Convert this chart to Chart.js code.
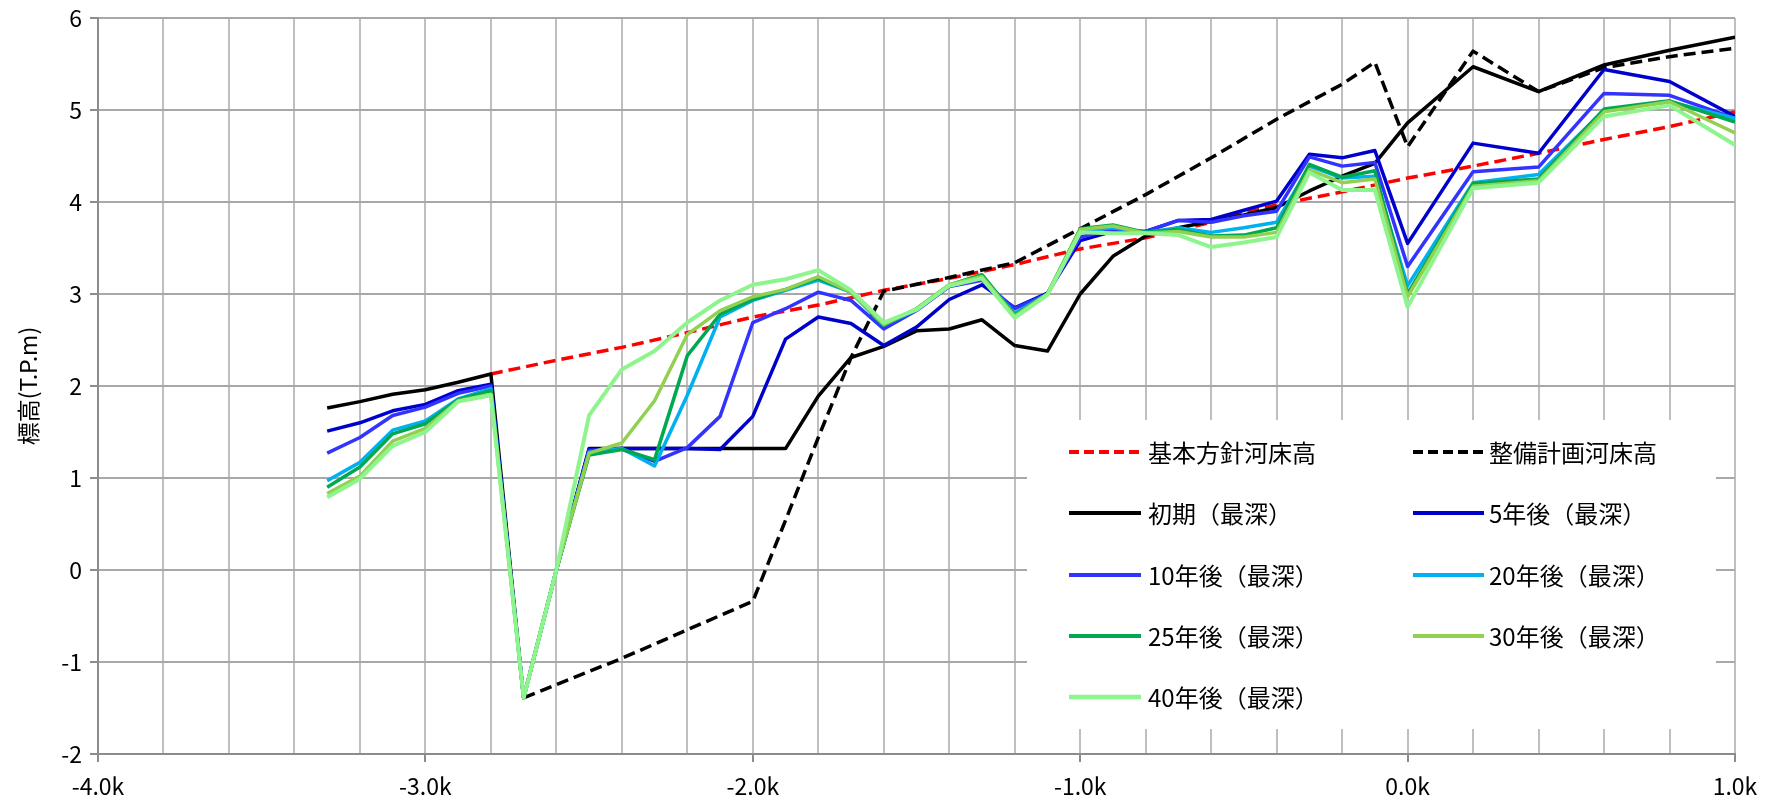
<!DOCTYPE html>
<html>
<head>
<meta charset="utf-8">
<title>河床高縦断図</title>
<script src="https://cdn.jsdelivr.net/npm/chart.js@4.4.1/dist/chart.umd.min.js"></script>
<style>
  html, body { margin: 0; padding: 0; background: #ffffff; }
  #wrap { width: 1772px; height: 801px; }
</style>
</head>
<body>
<div id="wrap"><canvas id="c" width="1772" height="801"></canvas></div>
<script>
// 距離標 (k)
const distance = [-3.3,-3.2,-3.1,-3.0,-2.9,-2.8,-2.7,-2.6,-2.5,-2.4,-2.3,-2.2,-2.1,-2.0,-1.9,-1.8,-1.7,-1.6,-1.5,-1.4,-1.3,-1.2,-1.1,-1.0,-0.9,-0.8,-0.7,-0.6,-0.5,-0.4,-0.3,-0.2,-0.1,0.0,0.2,0.4,0.6,0.8,1.0];

// 最深河床高 (T.P.m)
const shoki = [1.76,1.83,1.91,1.96,2.04,2.13,-1.39,0.00,1.32,1.32,1.32,1.32,1.32,1.32,1.32,1.89,2.31,2.43,2.60,2.62,2.72,2.44,2.38,3.00,3.41,3.63,3.72,3.79,3.86,3.94,4.12,4.28,4.42,4.86,5.47,5.20,5.49,5.65,5.79];
const after5 = [1.51,1.60,1.73,1.80,1.95,2.02,-1.39,0.00,1.31,1.32,1.32,1.32,1.31,1.67,2.51,2.75,2.68,2.44,2.64,2.94,3.10,2.85,3.01,3.58,3.68,3.68,3.80,3.81,3.91,4.01,4.52,4.48,4.56,3.55,4.64,4.53,5.44,5.31,4.93];
const after10 = [1.27,1.44,1.68,1.77,1.92,2.00,-1.39,0.00,1.30,1.32,1.18,1.33,1.67,2.69,2.84,3.02,2.93,2.62,2.82,3.08,3.15,2.84,3.00,3.62,3.70,3.68,3.80,3.78,3.85,3.90,4.49,4.39,4.43,3.30,4.33,4.38,5.18,5.16,4.91];
const after20 = [0.97,1.17,1.52,1.62,1.86,1.97,-1.39,0.00,1.28,1.32,1.13,1.90,2.75,2.93,3.04,3.15,3.02,2.66,2.83,3.09,3.18,2.79,3.00,3.68,3.72,3.67,3.72,3.67,3.72,3.78,4.39,4.26,4.28,3.09,4.21,4.30,5.00,5.09,4.91];
const after25 = [0.90,1.12,1.48,1.59,1.85,1.95,-1.39,0.00,1.25,1.31,1.20,2.33,2.78,2.94,3.05,3.17,3.02,2.66,2.84,3.10,3.21,2.77,3.00,3.71,3.75,3.67,3.70,3.63,3.64,3.72,4.41,4.27,4.34,3.00,4.20,4.25,5.01,5.10,4.87];
const after30 = [0.83,1.02,1.40,1.54,1.84,1.91,-1.39,0.00,1.27,1.38,1.84,2.56,2.82,2.97,3.05,3.19,3.02,2.67,2.84,3.10,3.19,2.76,3.00,3.70,3.74,3.66,3.68,3.62,3.62,3.67,4.35,4.21,4.25,2.97,4.17,4.23,4.98,5.09,4.75];
const after40 = [0.79,0.99,1.35,1.50,1.83,1.90,-1.39,0.00,1.68,2.18,2.38,2.69,2.93,3.10,3.16,3.26,3.04,2.69,2.83,3.09,3.17,2.74,2.99,3.67,3.66,3.66,3.64,3.51,3.56,3.62,4.32,4.13,4.13,2.86,4.15,4.21,4.93,5.05,4.62];

// 基本方針河床高
const kihonDistance = [-2.8,-2.6,-2.4,-2.2,-2.0,-1.8,-1.6,-1.4,-1.2,-1.0,-0.8,-0.6,-0.4,-0.2,0.0,0.2,0.4,0.6,0.8,1.0];
const kihonBed = [2.13,2.28,2.42,2.58,2.75,2.88,3.04,3.17,3.32,3.49,3.61,3.78,3.97,4.11,4.26,4.39,4.53,4.68,4.82,4.98];

// 整備計画河床高
const seibiDistance = [-2.7,-2.4,-2.2,-2.0,-1.9,-1.8,-1.7,-1.6,-1.4,-1.2,-1.0,-0.8,-0.6,-0.4,-0.2,-0.1,0.0,0.2,0.4,0.6,0.8,1.0];
const seibiBed = [-1.39,-0.96,-0.65,-0.34,0.54,1.44,2.31,3.03,3.18,3.34,3.71,4.08,4.48,4.90,5.28,5.52,4.60,5.64,5.20,5.46,5.58,5.67];

const seriesNames = ['基本方針河床高','整備計画河床高','初期（最深）','5年後（最深）','10年後（最深）','20年後（最深）','25年後（最深）','30年後（最深）','40年後（最深）'];
const seriesColors = ['#ff0000','#000000','#000000','#0000cc','#3333ff','#00b0f0','#00a850','#92d050','#8ef58e'];
const seriesDashed = [true, true, false, false, false, false, false, false, false];

const xTickValues = [-4, -3, -2, -1, 0, 1];
const yAxisTitle = '標高(T.P.m)';

const FONT = '"Noto Sans CJK JP", "Noto Sans", sans-serif';

function pts(xs, ys) { return xs.map((x, i) => ({ x: x, y: ys[i] })); }

const seriesData = [
  pts(kihonDistance, kihonBed),
  pts(seibiDistance, seibiBed),
  pts(distance, shoki),
  pts(distance, after5),
  pts(distance, after10),
  pts(distance, after20),
  pts(distance, after25),
  pts(distance, after30),
  pts(distance, after40)
];

const datasets = seriesData.map((d, i) => ({
  label: seriesNames[i],
  data: d,
  borderColor: seriesColors[i],
  backgroundColor: seriesColors[i],
  borderWidth: i === 8 ? 4 : 3.5,
  borderDash: seriesDashed[i] ? [12, 6] : [],
  borderJoinStyle: 'round',
  pointRadius: 0,
  tension: 0,
  fill: false,
  order: seriesData.length - i   // later series painted on top
}));

// legend box inside the plot, two columns
const legendBox = {
  id: 'legendBox',
  beforeDatasetsDraw(chart) {
    const ctx = chart.ctx;
    ctx.save();
    ctx.fillStyle = '#ffffff';
    ctx.fillRect(1027, 420, 1716 - 1027, 729 - 420);
    const rows = [452, 513, 575, 636, 697];
    const cols = [{ x0: 1069, x1: 1141, tx: 1148 }, { x0: 1413, x1: 1484, tx: 1489 }];
    ctx.font = '24px ' + FONT;
    ctx.textBaseline = 'middle';
    ctx.textAlign = 'left';
    seriesNames.forEach((name, i) => {
      const r = rows[Math.floor(i / 2)];
      const c = cols[i % 2];
      ctx.beginPath();
      ctx.strokeStyle = seriesColors[i];
      ctx.lineWidth = i === 8 ? 4.5 : 4;
      ctx.setLineDash(seriesDashed[i] ? [10, 5] : []);
      ctx.moveTo(c.x0, r);
      ctx.lineTo(c.x1, r);
      ctx.stroke();
      ctx.setLineDash([]);
      ctx.fillStyle = '#000000';
      ctx.fillText(name, c.tx, r + 1);
    });
    ctx.restore();
  }
};

new Chart(document.getElementById('c'), {
  type: 'line',
  data: { datasets: datasets },
  plugins: [legendBox],
  options: {
    responsive: false,
    devicePixelRatio: 1,
    animation: false,
    events: [],
    layout: { padding: { left: 0, right: 37, top: 18, bottom: 0 } },
    plugins: { legend: { display: false }, tooltip: { enabled: false } },
    scales: {
      x: {
        type: 'linear',
        min: -4,
        max: 1,
        afterFit(s) { s.height = 47; },
        afterBuildTicks(s) {
          const t = [];
          for (let i = 0; i <= 25; i++) t.push({ value: Math.round((-4 + i * 0.2) * 10) / 10 });
          s.ticks = t;
        },
        ticks: {
          autoSkip: false,
          maxRotation: 0,
          padding: 10,
          color: '#000000',
          font: { family: FONT, size: 23 },
          callback(v) {
            return xTickValues.some(t => Math.abs(t - v) < 1e-6) ? v.toFixed(1) + 'k' : '';
          }
        },
        grid: {
          color: '#bfbfbf',
          lineWidth: 2,
          tickLength: 8,
          tickColor(ctx) {
            const v = ctx.tick ? ctx.tick.value : 0;
            return xTickValues.some(t => Math.abs(t - v) < 1e-6) ? '#8c8c8c' : 'rgba(0,0,0,0)';
          }
        },
        border: { color: '#8c8c8c', width: 2 }
      },
      y: {
        min: -2,
        max: 6,
        afterFit(s) { s.width = 98; s.paddingTop = 0; s.paddingBottom = 0; },
        ticks: {
          stepSize: 1,
          padding: 8,
          color: '#000000',
          font: { family: FONT, size: 23 }
        },
        grid: { color: '#a8a8a8', lineWidth: 2, tickLength: 8, tickColor: '#8c8c8c' },
        border: { color: '#8c8c8c', width: 2 },
        title: {
          display: true,
          text: yAxisTitle,
          color: '#000000',
          font: { family: FONT, size: 23 },
          padding: { top: 14, bottom: 0 }
        }
      }
    }
  }
});
</script>
</body>
</html>
